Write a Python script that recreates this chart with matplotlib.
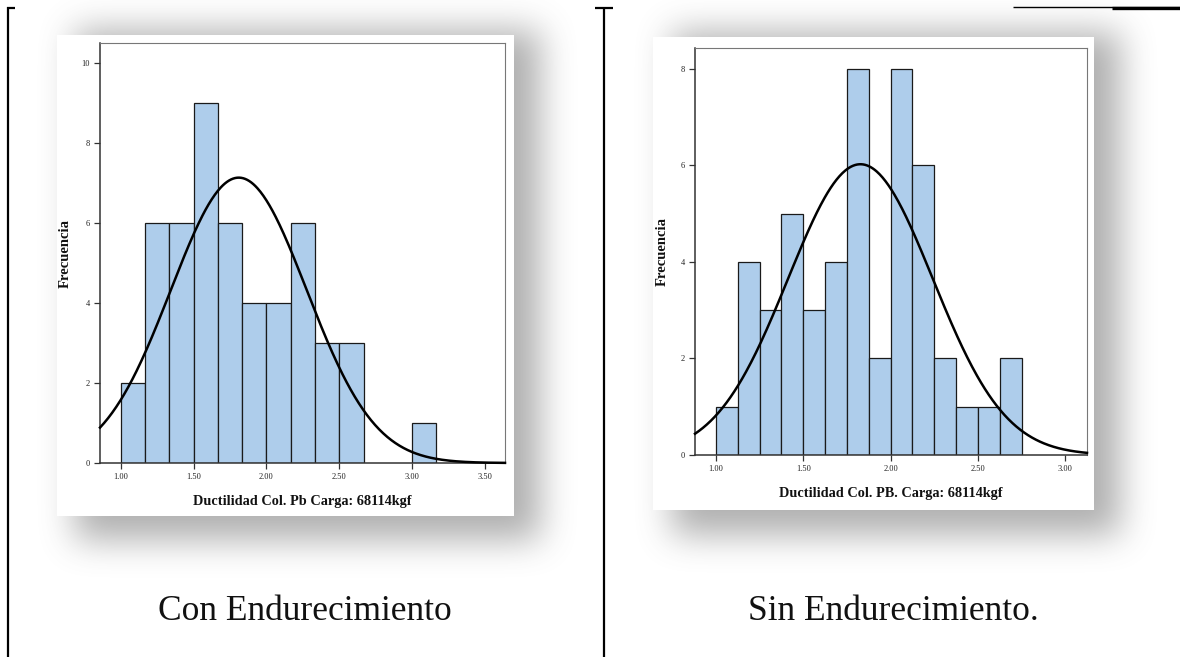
import numpy as np
import matplotlib
matplotlib.use("Agg")
import matplotlib.pyplot as plt
from matplotlib.patches import Rectangle

# ---------------- data ----------------
left_bin_start = 1.0
left_bin_width = 1.0 / 6.0
left_counts = [2, 6, 6, 9, 6, 4, 4, 6, 3, 3, 0, 0, 1]
left_mean = 1.81
left_sd = 0.466
left_n = 50
left_xticks = [1.00, 1.50, 2.00, 2.50, 3.00, 3.50]
left_yticks = [0, 2, 4, 6, 8, 10]
left_xlabel = "Ductilidad Col. Pb Carga: 68114kgf"
left_caption = "Con Endurecimiento"

right_bin_start = 1.0
right_bin_width = 0.125
right_counts = [1, 4, 3, 5, 3, 4, 8, 2, 8, 6, 2, 1, 1, 2]
right_mean = 1.827
right_sd = 0.414
right_n = 50
right_xticks = [1.00, 1.50, 2.00, 2.50, 3.00]
right_yticks = [0, 2, 4, 6, 8]
right_xlabel = "Ductilidad Col. PB. Carga: 68114kgf"
right_caption = "Sin Endurecimiento."

ylabel = "Frecuencia"

W, H = 1180, 657
BAR = "#aecdeb"

fig = plt.figure(figsize=(W / 100, H / 100), dpi=100)
fig.patch.set_facecolor("white")

# background / decoration axes in pixel coordinates
bg = fig.add_axes([0, 0, 1, 1], zorder=0)
bg.set_xlim(0, W)
bg.set_ylim(H, 0)
bg.axis("off")


def box_blur(a, r):
    k = 2 * r + 1
    p = np.pad(a, ((0, 0), (r + 1, r)), mode="edge")
    c = np.cumsum(p, axis=1)
    a = (c[:, k:] - c[:, :-k]) / k
    p = np.pad(a, ((r + 1, r), (0, 0)), mode="edge")
    c = np.cumsum(p, axis=0)
    return (c[k:, :] - c[:-k, :]) / k


mask = np.zeros((H, W))
for (x0, y0, x1, y1) in [(75, 30, 540, 540), (672, 32, 1120, 535)]:
    mask[y0:y1, x0:x1] = 1.0
for _ in range(3):
    mask = box_blur(mask, 16)
rgba = np.zeros((H, W, 4))
rgba[..., :3] = 0.38
rgba[..., 3] = 0.5 * mask
bg.imshow(rgba, extent=[0, W, H, 0], interpolation="bilinear", aspect="auto", zorder=1)

# white panels
bg.add_patch(Rectangle((57, 35), 514 - 57, 516 - 35, facecolor="white", edgecolor="none", zorder=2))
bg.add_patch(Rectangle((653, 37), 1094 - 653, 510 - 37, facecolor="white", edgecolor="none", zorder=2))

# table borders
kw = dict(color="black", solid_capstyle="butt", zorder=3)
bg.plot([8, 8], [7, H], lw=1.6, **kw)
bg.plot([7, 15], [7.5, 7.5], lw=1.6, **kw)
bg.plot([604, 604], [7, H], lw=1.6, **kw)
bg.plot([595, 613], [7.5, 7.5], lw=1.6, **kw)
bg.plot([1013, 1180], [7, 7], lw=1.0, **kw)
bg.plot([1112, 1180], [7.5, 7.5], lw=2.4, **kw)

# captions
bg.text(305, 612, left_caption, ha="center", va="center", fontsize=25.5,
        family="Liberation Serif", color="#111111", zorder=3)
bg.text(893, 612, right_caption, ha="center", va="center", fontsize=25.5,
        family="Liberation Serif", color="#111111", zorder=3)


def px_axes(x0, y0, x1, y1):
    return fig.add_axes([x0 / W, 1 - y1 / H, (x1 - x0) / W, (y1 - y0) / H], zorder=5)


def draw_hist(ax, start, bw, counts, mean, sd, n, xlim, ylim, xticks, yticks,
              xlabel, xlab_y, ylab_x):
    counts = np.asarray(counts, dtype=float)
    edges = start + bw * np.arange(len(counts) + 1)
    nz = counts > 0
    ax.bar(edges[:-1][nz], counts[nz], width=bw, align="edge", color=BAR,
           edgecolor="#1a1a1a", linewidth=0.9, zorder=2)
    xs = np.linspace(xlim[0], xlim[1], 400)
    ys = n * bw / (sd * np.sqrt(2 * np.pi)) * np.exp(-0.5 * ((xs - mean) / sd) ** 2)
    ax.plot(xs, ys, color="black", lw=1.8, zorder=3, clip_on=False)
    ax.set_xlim(*xlim)
    ax.set_ylim(*ylim)
    ax.set_xticks(xticks)
    ax.set_xticklabels([f"{t:.2f}" for t in xticks])
    ax.set_yticks(yticks)
    ax.set_yticklabels([str(t) for t in yticks])
    ax.tick_params(direction="out", length=4.5, width=0.9, color="#333333",
                   labelsize=6, pad=3, labelcolor="#222222")
    for lab in ax.get_xticklabels() + ax.get_yticklabels():
        lab.set_family("Liberation Serif")
    for s in ("left", "bottom"):
        ax.spines[s].set_color("#333333")
        ax.spines[s].set_linewidth(1.1)
    for s in ("top", "right"):
        ax.spines[s].set_color("#777777")
        ax.spines[s].set_linewidth(0.8)
    ax.set_facecolor("white")
    ax.set_xlabel(xlabel, fontsize=10.3, fontweight="bold", family="Liberation Serif",
                  va="center", color="#111111")
    ax.xaxis.set_label_coords(0.5, xlab_y)
    ax.set_ylabel(ylabel, fontsize=10.5, fontweight="bold", family="Liberation Serif",
                  va="center", color="#111111")
    ax.yaxis.set_label_coords(ylab_x, 0.5)


axL = px_axes(100, 43, 505, 463)
draw_hist(axL, left_bin_start, left_bin_width, left_counts, left_mean, left_sd, left_n,
          (0.858, 3.637), (0, 10.5), left_xticks, left_yticks, left_xlabel,
          -39 / 420, -35 / 405)

axR = px_axes(695, 48, 1087, 455)
draw_hist(axR, right_bin_start, right_bin_width, right_counts, right_mean, right_sd, right_n,
          (0.88, 3.124), (0, 8.43), right_xticks, right_yticks, right_xlabel,
          -38 / 407, -33 / 392)

fig.savefig("out.png", dpi=100, facecolor="white")
